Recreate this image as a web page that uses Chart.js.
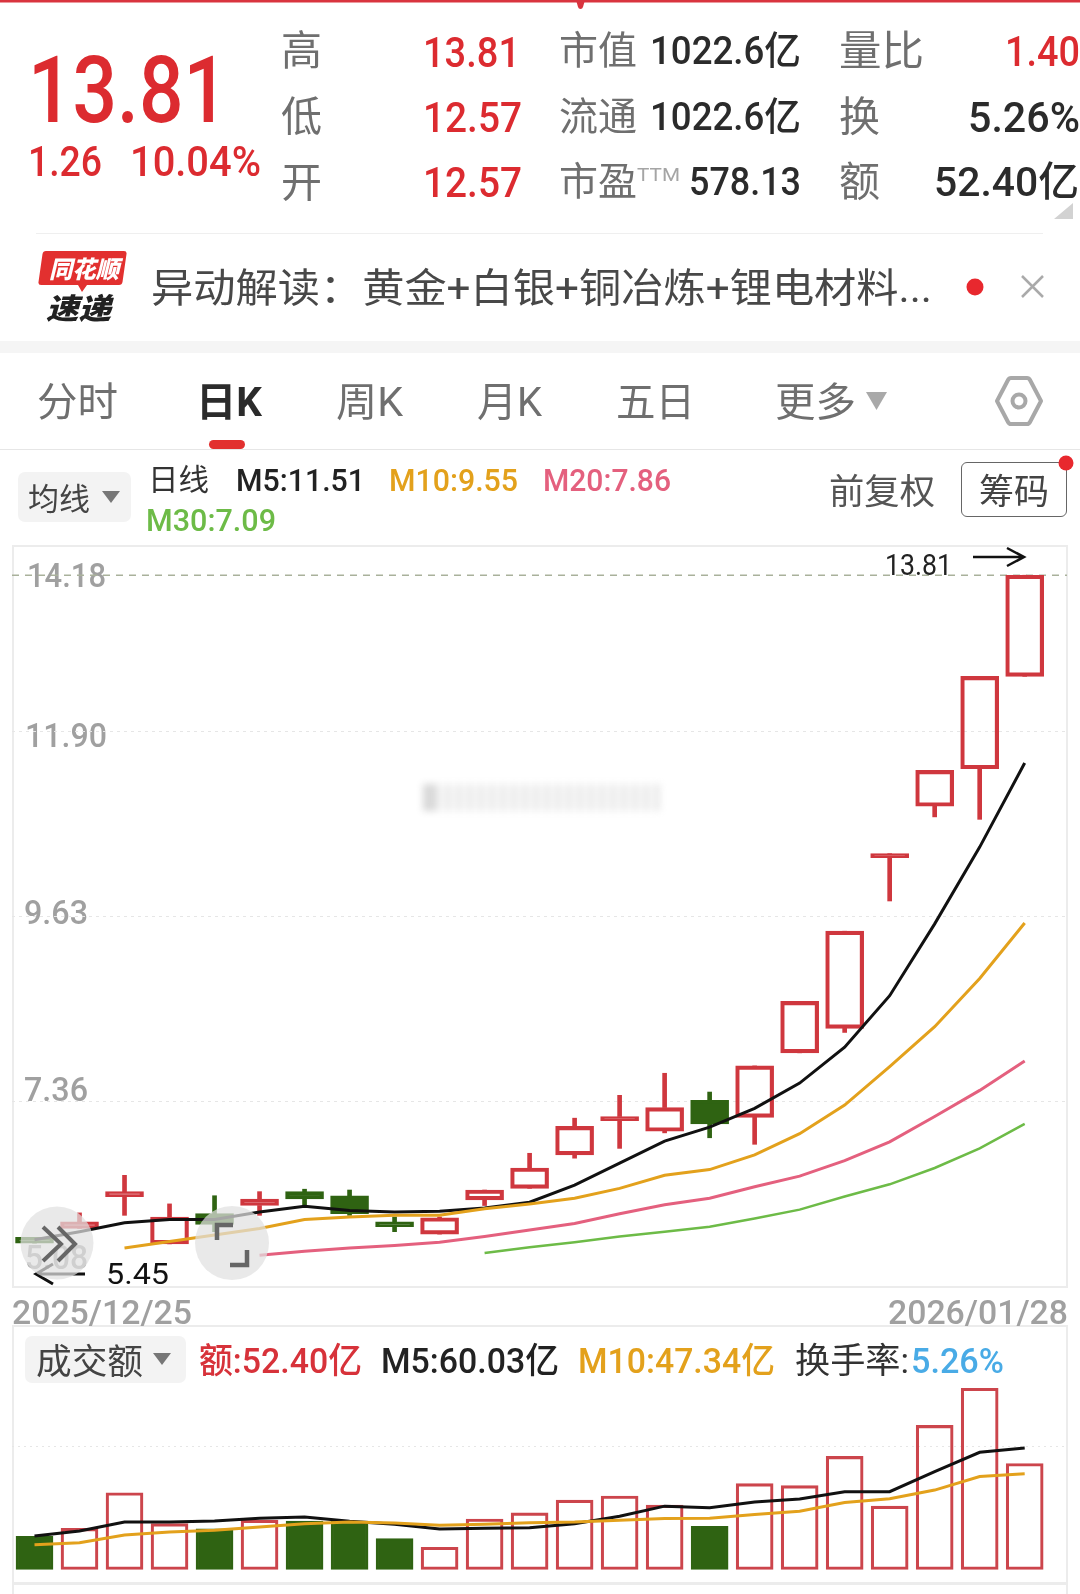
<!DOCTYPE html>
<html>
<head>
<meta charset="utf-8">
<script src="https://cdn.jsdelivr.net/npm/chart.js@4/dist/chart.umd.js"></script>
<style>
    html, body { margin: 0; padding: 0; background: #fff; }
    #page { position: relative; width: 1080px; height: 1594px; overflow: hidden; background: #fff;
        font-family: Roboto, "Noto Sans CJK SC", sans-serif; }
    #page canvas, #page svg, .box, .t { position: absolute; }
    .t { white-space: nowrap; transform-origin: left center; }
    .box { box-sizing: border-box; }
</style>
</head>
<body>
<div id="page">
    <div class="box" style="left:0;top:341px;width:1080px;height:12px;background:#f5f5f5"></div>
    <div class="box" style="left:36px;top:233px;width:1007px;height:1px;background:#efefef"></div>
    <div class="box" style="left:0;top:449px;width:1080px;height:1px;background:#e6e6e6"></div>
    <div class="box" style="left:18px;top:472px;width:113px;height:50px;background:#f3f3f3;border-radius:7px"></div>
    <div class="box" style="left:25px;top:1336px;width:161px;height:47px;background:#f3f3f3;border-radius:7px"></div>
    <div class="box" style="left:961px;top:462px;width:106px;height:55px;border:1.5px solid #666;border-radius:6px"></div>
    <div class="box" style="left:12px;top:545px;width:1056px;height:743px;border:2px solid #ececec"></div>
    <div class="box" style="left:12px;top:1325px;width:1056px;height:259px;border:2px solid #ececec"></div>
    <div class="box" style="left:12px;top:1583px;width:1056px;height:20px;border:2px solid #ececec"></div>
    <div class="box" style="left:423px;top:784px;width:237px;height:27px;filter:blur(3.5px);opacity:.32;
        background:linear-gradient(90deg,#888 0 5%,transparent 5% 14%,transparent 14%),repeating-linear-gradient(90deg,#bbb 0 6px,#f4f4f4 6px 11px)"></div>
    <div id="yLabels"></div>
    <canvas id="chartKline" width="1055" height="743" style="left:12px;top:545px"></canvas>
    <canvas id="chartVolume" width="1055" height="245" style="left:12px;top:1325px"></canvas>
    <svg width="1080" height="1594" viewBox="0 0 1080 1594">
        <rect x="0" y="0" width="1080" height="2.5" fill="#d9343f"/>
        <path d="M576 0h9l-2 7a2.6 2.6 0 0 1-5 0z" fill="#d9343f"/>
        <path d="M1073 203v16h-19z" fill="#d2d2d2"/>
        <path d="M45 251h79q3 0 2.500 3l-4 28q-.5 3-3.500 3h-32l-5 7-4-7h-37q-3 0-2.500-3l4-28q.5-3 3.500-3z" fill="#e2302f"/>
        <circle cx="975" cy="287" r="8.500" fill="#e8282e"/>
        <path d="M1022 276l21 21M1043 276l-21 21" stroke="#aaa" stroke-width="2.500"/>
        <path d="M866 392h21l-10.500 18z" fill="#a9a9a9"/>
        <path d="M997 401l11-21q1-2 3-2h16q2 0 3 2l11 21-11 21q-1 2-3 2h-16q-2 0-3-2z" fill="none" stroke="#a8a8a8" stroke-width="4" stroke-linejoin="round"/>
        <circle cx="1019" cy="401" r="6.500" fill="none" stroke="#a8a8a8" stroke-width="4"/>
        <rect x="209" y="440" width="36" height="9" rx="4.500" fill="#e2302f"/>
        <path d="M102 491h18l-9 12z" fill="#777"/>
        <circle cx="1066" cy="463" r="7.500" fill="#e8282e"/>
        <path d="M153 1353h18l-9 12z" fill="#777"/>
        <path d="M973 557h51M1007 548l17 9-17 9" fill="none" stroke="#111" stroke-width="2.500"/>
        <path d="M85 1274h-49M53 1284l-17-10 17-10" fill="none" stroke="#111" stroke-width="3"/>
        <circle cx="57" cy="1243" r="36.500" fill="rgba(225,225,225,.72)"/>
        <circle cx="232" cy="1243" r="37" fill="rgba(225,225,225,.72)"/>
        <path d="M43 1227l18 17-18 17M58 1227l17 17-17 17" fill="none" stroke="#666" stroke-width="4"/>
        <path d="M217 1240v-15h16M247 1250v15h-17" fill="none" stroke="#666" stroke-width="4.500"/>
    </svg>
</div>
<script>
// 23 trading days
const dates = ['2025/12/25', '12/26', '12/29', '12/30', '12/31', '01/05', '01/06', '01/07', '01/08', '01/09', '01/12', '01/13',
    '01/14', '01/15', '01/16', '01/19', '01/20', '01/21', '01/22', '01/23', '01/26', '01/27', '2026/01/28'];
const opens = [5.70, 5.81, 6.20, 5.62, 5.99, 6.09, 6.26, 6.21, 5.89, 5.74, 6.16, 6.30, 6.71, 7.13, 7.00, 7.38, 7.17, 7.96, 8.26, 10.35, 10.98, 11.44, 12.57];
const closes = [5.63, 5.89, 6.26, 5.95, 5.86, 6.17, 6.17, 5.99, 5.83, 5.94, 6.28, 6.55, 7.06, 7.18, 7.29, 7.09, 7.80, 8.59, 9.45, 10.40, 11.42, 12.57, 13.81];
const highs = [5.70, 6.00, 6.46, 6.11, 6.21, 6.26, 6.29, 6.28, 5.95, 5.95, 6.28, 6.73, 7.16, 7.44, 7.71, 7.48, 7.80, 8.59, 9.45, 10.40, 11.42, 12.57, 13.81];
const lows = [5.63, 5.81, 5.97, 5.62, 5.77, 5.97, 6.09, 5.97, 5.77, 5.74, 6.09, 6.30, 6.67, 6.79, 6.98, 6.92, 6.84, 7.96, 8.21, 9.82, 10.85, 10.82, 12.57];
const m5 = [5.67, 5.77, 5.88, 5.92, 5.92, 6.01, 6.08, 6.03, 6.01, 6.02, 6.06, 6.13, 6.34, 6.61, 6.88, 7.05, 7.28, 7.59, 8.03, 8.66, 9.54, 10.48, 11.51];
const m10 = [null, null, 5.57, 5.65, 5.73, 5.81, 5.92, 5.95, 5.97, 5.97, 6.05, 6.11, 6.18, 6.30, 6.46, 6.53, 6.71, 6.97, 7.32, 7.79, 8.28, 8.87, 9.55];
const m20 = [null, null, null, null, null, 5.48, 5.53, 5.57, 5.60, 5.64, 5.71, 5.79, 5.87, 5.99, 6.10, 6.18, 6.32, 6.45, 6.64, 6.87, 7.18, 7.50, 7.86];
const m30 = [null, null, null, null, null, null, null, null, null, null, 5.51, 5.58, 5.64, 5.71, 5.77, 5.83, 5.93, 6.04, 6.20, 6.35, 6.55, 6.79, 7.09];
const amount = [16.5, 20.5, 38.0, 22.8, 20.3, 24.5, 24.0, 24.1, 15.5, 11.2, 25.1, 28.1, 34.4, 36.4, 31.9, 21.5, 42.5, 41.5, 55.9, 31.4, 71.1, 89.4, 52.40];
const amountM5 = [16.7, 19.2, 23.6, 23.6, 24.1, 25.5, 26.1, 24.0, 22.5, 20.2, 20.5, 20.8, 22.8, 26.4, 31.4, 30.6, 33.4, 34.9, 38.5, 38.5, 48.4, 57.9, 60.03];
const amountM10 = [12.4, 13.4, 17.2, 18.7, 19.5, 21.2, 22.8, 23.6, 23.1, 22.0, 22.5, 23.3, 23.6, 24.5, 25.3, 25.5, 27.3, 28.9, 33.2, 35.0, 39.3, 46.0, 47.34];
const lastPrice = 13.81;
const priceTicks = [5.08, 7.36, 9.63, 11.90, 14.18];
const amountTicks = [0, 60.5, 120.5];

const RED = '#cf373e';
const GREEN = '#2f6312';
const ORANGE = '#e3a11c';
const PINK = '#e4607e';
const LIME = '#6dbb47';
const XMIN = -0.5;
const XMAX = 22.94;

// [text, left, right, centre y, font size, colour, weight]
const GR = '#6f6f6f', DK = '#2b2b2b', TR = '#dc2b30';
const texts = [
    ['13.81', 28, 228, 91, 92, TR, 500],
    ['1.26', 28, 102, 162, 42, TR, 500], ['10.04%', 130, 261, 162, 42, TR, 500],
    ['高', 281, 322, 51, 41, GR], ['低', 281, 322, 117, 41, GR], ['开', 281, 322, 183, 41, GR],
    ['13.81', 423, 520, 52, 43, TR, 500], ['12.57', 423, 522, 117, 43, TR, 500], ['12.57', 423, 522, 182, 43, TR, 500],
    ['市值', 559, 637, 51, 39, GR], ['1022.6亿', 650, 801, 51, 39, DK, 500],
    ['流通', 559, 637, 117, 39, GR], ['1022.6亿', 650, 801, 117, 39, DK, 500],
    ['市盈', 559, 637, 182, 39, GR], ['TTM', 637, 680, 175, 18, '#a5a5a5'], ['578.13', 689, 801, 182, 39, DK, 500],
    ['量比', 839, 924, 51, 41, GR], ['1.40', 1005, 1080, 52, 42, TR, 500],
    ['换', 839, 880, 117, 41, GR], ['5.26%', 968, 1080, 118, 42, DK, 500],
    ['额', 839, 880, 182, 41, GR], ['52.40亿', 934, 1079, 182, 41, DK, 500],
    ['同花顺', 49, 119, 270, 24, '#fff', 900, 'italic'], ['速递', 46, 111, 309, 29, '#222', 900, 'italic'],
    ['异动解读：黄金+白银+铜冶炼+锂电材料...', 151, 932, 289, 40, '#484848'],
    ['分时', 37, 118, 403, 40, GR], ['日K', 196, 262, 403, 40, '#2b2b2b', 700], ['周K', 336, 403, 403, 40, GR],
    ['月K', 477, 542, 403, 40, GR], ['五日', 616, 695, 403, 40, GR], ['更多', 775, 856, 403, 40, GR],
    ['均线', 28, 90, 499, 31, '#444'], ['日线', 148, 209, 480, 30, '#333'],
    ['M5:11.51', 236, 365, 480, 31, '#222', 500], ['M10:9.55', 389, 518, 480, 31, ORANGE, 500], ['M20:7.86', 543, 671, 480, 31, PINK, 500],
    ['M30:7.09', 146, 276, 520, 31, LIME, 500],
    ['前复权', 829, 935, 492, 35, '#555'], ['筹码', 979, 1049, 492, 35, '#444'],
    ['13.81', 885, 952, 565, 29, '#222'], ['5.45', 106, 169, 1274, 29, '#111'],
    ['2025/12/25', 12, 192, 1312, 34, '#a0a0a0', 500], ['2026/01/28', 888, 1068, 1312, 34, '#a0a0a0', 500],
    ['成交额', 36, 143, 1362, 35, '#444'], ['额:52.40亿', 199, 362, 1361, 35, '#d7323a', 500],
    ['M5:60.03亿', 381, 559, 1361, 35, '#222', 500], ['M10:47.34亿', 578, 775, 1361, 35, ORANGE, 500],
    ['换手率:', 795, 909, 1361, 35, '#333'], ['5.26%', 911, 1004, 1361, 35, '#49abe6', 500],
];
// y axis labels sit off their grid lines in the app: [left, right, centre y]
const yLabelSpots = [[25, 88, 1257], [24, 88, 1089], [24, 88, 912], [25, 107, 735], [27, 106, 575]];

function addText(parent, t) {
    const [str, left, right, cy, size, color, weight, style] = t;
    const el = document.createElement('span');
    el.className = 't';
    el.textContent = str;
    el.style.cssText = `left:${left}px;top:${cy - size / 2}px;font-size:${size}px;line-height:${size}px;color:${color};font-weight:${weight || 400};font-style:${style || 'normal'}`;
    parent.appendChild(el);
    // squeeze to the width measured on the picture, the app font is narrower
    el.style.transform = `scaleX(${(right - left) / el.getBoundingClientRect().width})`;
}

const page = document.getElementById('page');
texts.forEach(t => addText(page, t));
priceTicks.forEach((v, i) => {
    const [l, r, cy] = yLabelSpots[i];
    addText(document.getElementById('yLabels'), [v.toFixed(2), l, r, cy, 34, '#a0a0a0', 500]);
});

const xy = arr => arr.map((v, i) => ({ x: i, y: v }));
const maLine = (arr, color, width) => ({
    type: 'line', data: xy(arr), borderColor: color, borderWidth: width, pointRadius: 0, tension: 0, order: 1
});
const upColor = i => closes[i] >= opens[i] ? RED : GREEN;
const xAxis = { type: 'linear', min: XMIN, max: XMAX, offset: false, display: false };
const baseOptions = { responsive: false, animation: false, layout: { padding: 0 },
    plugins: { legend: { display: false }, tooltip: { enabled: false } } };

function yAxis(min, max, tickValues, dash) {
    return {
        min, max,
        afterBuildTicks: axis => { axis.ticks = tickValues.map(value => ({ value })); },
        ticks: { display: false },
        border: { display: false, dash },
        grid: {
            drawTicks: false,
            color: c => (c.index === 0 || c.index === tickValues.length - 1) ? 'rgba(0,0,0,0)' : '#e6e6e6'
        }
    };
}

const wick = (from, to) => ({
    data: dates.map((d, i) => ({ x: i, y: [from(i), to(i)] })),
    backgroundColor: dates.map((d, i) => upColor(i)),
    borderWidth: 0, barThickness: 4, grouped: false, order: 3
});

// up days are hollow unless the body is too thin to show a hole
const bodyFill = i => {
    if (closes[i] < opens[i]) return GREEN;
    return closes[i] - opens[i] < 0.09 ? RED : 'rgba(0,0,0,0)';
};

new Chart(document.getElementById('chartKline'), {
    type: 'bar',
    data: {
        datasets: [
            wick(i => highs[i], i => Math.max(opens[i], closes[i])),
            wick(i => lows[i], i => Math.min(opens[i], closes[i])),
            {
                data: dates.map((d, i) => ({ x: i, y: [opens[i], closes[i]] })),
                backgroundColor: dates.map((d, i) => bodyFill(i)),
                borderColor: dates.map((d, i) => upColor(i)),
                borderWidth: 3.5, borderSkipped: false, barThickness: 38, grouped: false, order: 2
            },
            maLine(m30, LIME, 2.5),
            maLine(m20, PINK, 3),
            maLine(m10, ORANGE, 3),
            maLine(m5, '#111', 3),
            {
                type: 'line', order: 4, pointRadius: 0, borderWidth: 1.5, borderColor: '#a9b19b', borderDash: [7, 6],
                data: [{ x: XMIN, y: lastPrice }, { x: XMAX, y: lastPrice }]
            }
        ]
    },
    options: { ...baseOptions, scales: { x: xAxis, y: yAxis(priceTicks[0], priceTicks[4], priceTicks, [3, 4]) } }
});

new Chart(document.getElementById('chartVolume'), {
    type: 'bar',
    data: {
        datasets: [
            {
                data: xy(amount),
                backgroundColor: dates.map((d, i) => closes[i] >= opens[i] ? 'rgba(0,0,0,0)' : GREEN),
                borderColor: dates.map((d, i) => closes[i] >= opens[i] ? '#cc454c' : GREEN),
                borderWidth: 2.5, borderSkipped: false, barThickness: 37, grouped: false, order: 2
            },
            maLine(amountM10, ORANGE, 3),
            maLine(amountM5, '#111', 3)
        ]
    },
    options: { ...baseOptions, scales: { x: xAxis, y: yAxis(0, 120.5, amountTicks, [2, 4]) } }
});
</script>
</body>
</html>
